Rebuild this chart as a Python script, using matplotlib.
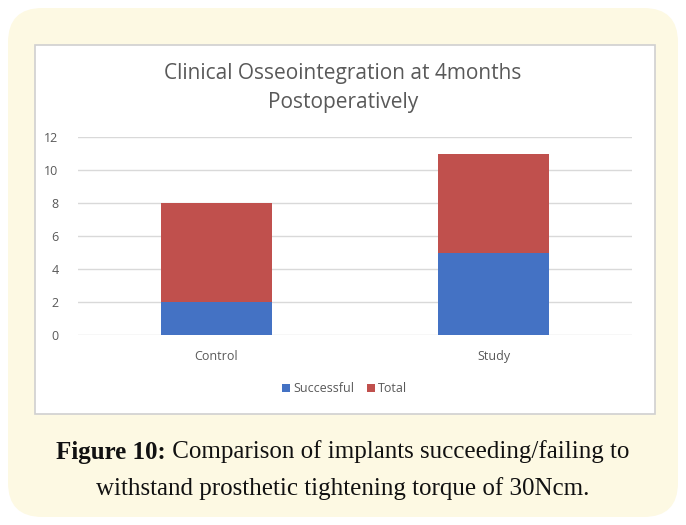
import matplotlib
matplotlib.use("Agg")
import matplotlib.pyplot as plt
from matplotlib.patches import FancyBboxPatch, Rectangle

categories = ["Control", "Study"]
successful = [2, 5]
total = [6, 6]
yticks = [0, 2, 4, 6, 8, 10, 12]
title = "Clinical Osseointegration at 4months\nPostoperatively"

W, H = 686, 525
fig = plt.figure(figsize=(W / 100, H / 100), dpi=100)
fig.patch.set_facecolor("white")

def fx(px): return px / W
def fy(py): return 1 - py / H

# outer rounded panel
outer = FancyBboxPatch((fx(8), fy(517)), fx(670), 509 / H,
                       boxstyle="round,pad=0,rounding_size=0.05",
                       transform=fig.transFigure, facecolor="#fdf9e3",
                       edgecolor="none", mutation_aspect=W / H, zorder=0)
fig.patches.append(outer)
# inner chart box
inner = Rectangle((fx(35), fy(414)), fx(620), 369 / H, transform=fig.transFigure,
                  facecolor="white", edgecolor="#d0d0d0", linewidth=1.2, zorder=1)
fig.patches.append(inner)

ax = fig.add_axes([fx(78), fy(335), fx(554), 198 / H])
ax.set_zorder(2)
ax.patch.set_alpha(0)
x = list(range(len(categories)))
b1 = ax.bar(x, successful, width=0.4, color="#4472C4", label="Successful", zorder=3)
b2 = ax.bar(x, total, width=0.4, bottom=successful, color="#C0504D", label="Total", zorder=3)
ax.set_xlim(-0.5, 1.5)
ax.set_ylim(0, 12)
ax.set_yticks(yticks)
ax.set_xticks(x)
ax.set_xticklabels(categories)
ax.grid(axis="y", color="#d9d9d9", linewidth=1, zorder=0)
for s in ax.spines.values():
    s.set_visible(False)
ax.tick_params(axis="both", length=0, labelsize=9, labelcolor="#595959")
ax.tick_params(axis="y", pad=14)
ax.tick_params(axis="x", pad=11)
for lab in ax.get_yticklabels() + ax.get_xticklabels():
    lab.set_family("Open Sans")

fig.text(fx(343), fy(88), title, ha="center", va="center", fontsize=15,
         color="#595959", family="Open Sans", linespacing=1.45, zorder=3)

leg = fig.legend(handles=[b1, b2], labels=["Successful", "Total"], loc="center",
                 bbox_to_anchor=(fx(345), fy(389)), ncol=2, frameon=False,
                 prop={"family": "Open Sans", "size": 9}, handlelength=0.6,
                 handleheight=0.6, handletextpad=0.3, columnspacing=1.0)
for t in leg.get_texts():
    t.set_color("#595959")

cap1_bold = "Figure 10:"
cap1_rest = " Comparison of implants succeeding/failing to"
cap2 = "withstand prosthetic tightening torque of 30Ncm."
fs = 18

renderer = fig.canvas.get_renderer()
tb = fig.text(0, fy(452), cap1_bold, fontsize=fs, family="Liberation Serif",
              weight="bold", va="center", color="#111111")
tr = fig.text(0, fy(452), cap1_rest, fontsize=fs, family="Liberation Serif",
              va="center", color="#111111")
wb = tb.get_window_extent(renderer).width
wr = tr.get_window_extent(renderer).width
start = (W / 2 - (wb + wr) / 2) / W
tb.set_x(start)
tr.set_x(start + wb / W)
fig.text(0.5, fy(489), cap2, fontsize=fs, family="Liberation Serif",
         ha="center", va="center", color="#111111")

fig.savefig("out.png", dpi=100, facecolor="white")
